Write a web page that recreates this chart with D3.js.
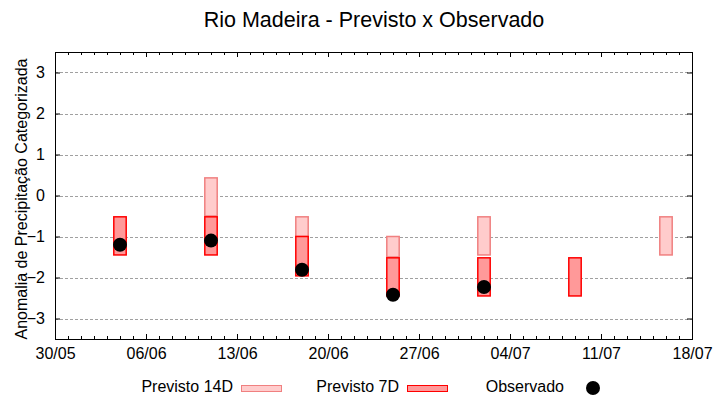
<!DOCTYPE html>
<html>
<head>
<meta charset="utf-8">
<script src="https://cdn.jsdelivr.net/npm/d3@7"></script>
<style>
body { margin: 0; background: #fff; }
text { font-family: "Liberation Sans", Arial, sans-serif; fill: #000; }
</style>
</head>
<body>
<svg id="chart" width="720" height="400"></svg>
<script>
// ---- data ----
const title = "Rio Madeira - Previsto x Observado";
const yLabel = "Anomalia de Precipitação Categorizada";
const dates = ["2023-06-04", "2023-06-11", "2023-06-18", "2023-06-25", "2023-07-02", "2023-07-09", "2023-07-16"];
const prev14Top = [null, 0.43, -0.52, -1.0, -0.52, null, -0.52];
const prev14Bottom = [null, -0.5, -1.0, -1.5, -1.45, null, -1.45];
const prev7Top = [-0.52, -0.52, -1.0, -1.52, -1.52, -1.52, null];
const prev7Bottom = [-1.45, -1.45, -1.96, -2.45, -2.45, -2.45, null];
const observed = [-1.2, -1.1, -1.81, -2.42, -2.23, null, null];
const yTicks = [-3, -2, -1, 0, 1, 2, 3];
const xStart = "2023-05-30", xEnd = "2023-07-18";
const legendLabels = ["Previsto 14D", "Previsto 7D", "Observado"];

// ---- layout ----
const svg = d3.select("#chart");
const L = 55, R = 692, T = 52, B = 339;
const parse = d3.utcParse("%Y-%m-%d");
const x = d3.scaleUtc().domain([parse(xStart), parse(xEnd)]).range([L, R]);
const y = d3.scaleLinear().domain([-3.5, 3.5]).range([B, T]);

const c14 = { fill: "#ffcccc", stroke: "#f08080" };
const c7 = { fill: "#ff9999", stroke: "#ff0000" };

// grid
svg.append("g").selectAll("line").data(yTicks).join("line")
  .attr("x1", L).attr("x2", R)
  .attr("y1", d => Math.round(y(d)) + 0.5).attr("y2", d => Math.round(y(d)) + 0.5)
  .attr("stroke", "#a0a0a0").attr("stroke-width", 1).attr("stroke-dasharray", "3,2");

// axes
const majorDates = d3.range(0, 50, 7).map(k => d3.utcDay.offset(parse(xStart), k));
const minorDates = d3.range(0, 50, 1).map(k => d3.utcDay.offset(parse(xStart), k));
const fmt = d3.utcFormat("%d/%m");

const ax = svg.append("g");
ax.append("g").attr("transform", `translate(0,${B})`)
  .call(d3.axisBottom(x).tickValues(minorDates).tickSize(-3).tickFormat(""))
  .call(g => g.select(".domain").remove());
ax.append("g").attr("transform", `translate(0,${T})`)
  .call(d3.axisTop(x).tickValues(minorDates).tickSize(-3).tickFormat(""))
  .call(g => g.select(".domain").remove());
ax.append("g").attr("transform", `translate(0,${B})`)
  .call(d3.axisBottom(x).tickValues(majorDates).tickSize(-5).tickPadding(9).tickFormat(fmt))
  .call(g => g.select(".domain").remove())
  .call(g => g.selectAll("text").attr("font-size", 16).attr("font-family", "Liberation Sans, Arial, sans-serif"));
ax.append("g").attr("transform", `translate(0,${T})`)
  .call(d3.axisTop(x).tickValues(majorDates).tickSize(-5).tickFormat(""))
  .call(g => g.select(".domain").remove());
ax.append("g").attr("transform", `translate(${L},0)`)
  .call(d3.axisLeft(y).tickValues(yTicks).tickSize(-5).tickPadding(10).tickFormat(d3.format("d")))
  .call(g => g.select(".domain").remove())
  .call(g => g.selectAll("text").attr("font-size", 16).attr("font-family", "Liberation Sans, Arial, sans-serif"));
ax.append("g").attr("transform", `translate(${R},0)`)
  .call(d3.axisRight(y).tickValues(yTicks).tickSize(-5).tickFormat(""))
  .call(g => g.select(".domain").remove());
ax.selectAll(".tick line").attr("stroke", "#000");

// frame
svg.append("rect").attr("x", L + 0.5).attr("y", T + 0.5).attr("width", R - L).attr("height", B - T)
  .attr("fill", "none").attr("stroke", "#000").attr("stroke-width", 1);

// bars
const halfW = 6.2;
const rows = dates.map((d, i) => ({ date: parse(d), t14: prev14Top[i], b14: prev14Bottom[i], t7: prev7Top[i], b7: prev7Bottom[i], obs: observed[i] }));

svg.append("g").selectAll("rect").data(rows.filter(r => r.t14 !== null)).join("rect")
  .attr("x", r => x(r.date) - halfW).attr("width", 2 * halfW)
  .attr("y", r => y(r.t14)).attr("height", r => y(r.b14) - y(r.t14))
  .attr("fill", c14.fill).attr("stroke", c14.stroke).attr("stroke-width", 1.5);

svg.append("g").selectAll("rect").data(rows.filter(r => r.t7 !== null)).join("rect")
  .attr("x", r => x(r.date) - halfW).attr("width", 2 * halfW)
  .attr("y", r => y(r.t7)).attr("height", r => y(r.b7) - y(r.t7))
  .attr("fill", c7.fill).attr("stroke", c7.stroke).attr("stroke-width", 1.5);

svg.append("g").selectAll("circle").data(rows.filter(r => r.obs !== null)).join("circle")
  .attr("cx", r => x(r.date)).attr("cy", r => y(r.obs)).attr("r", 7).attr("fill", "#000");

// title
svg.append("text").attr("x", 374).attr("y", 27).attr("text-anchor", "middle")
  .attr("font-size", 21.5).text(title);

// y label
svg.append("text").attr("transform", `translate(27,199) rotate(-90)`)
  .attr("text-anchor", "middle").attr("font-size", 16).text(yLabel);

// legend
const lg = svg.append("g").attr("font-size", 16);
const legY = 392;
lg.append("text").attr("x", 233).attr("y", legY).attr("text-anchor", "end").text(legendLabels[0]);
lg.append("rect").attr("x", 241.5).attr("y", 385.5).attr("width", 40).attr("height", 6)
  .attr("fill", c14.fill).attr("stroke", c14.stroke).attr("stroke-width", 1);
lg.append("text").attr("x", 399).attr("y", legY).attr("text-anchor", "end").text(legendLabels[1]);
lg.append("rect").attr("x", 407.5).attr("y", 385.5).attr("width", 40).attr("height", 6)
  .attr("fill", c7.fill).attr("stroke", c7.stroke).attr("stroke-width", 1);
lg.append("text").attr("x", 564).attr("y", legY).attr("text-anchor", "end").text(legendLabels[2]);
lg.append("circle").attr("cx", 593).attr("cy", 388).attr("r", 7).attr("fill", "#000");
</script>
</body>
</html>
